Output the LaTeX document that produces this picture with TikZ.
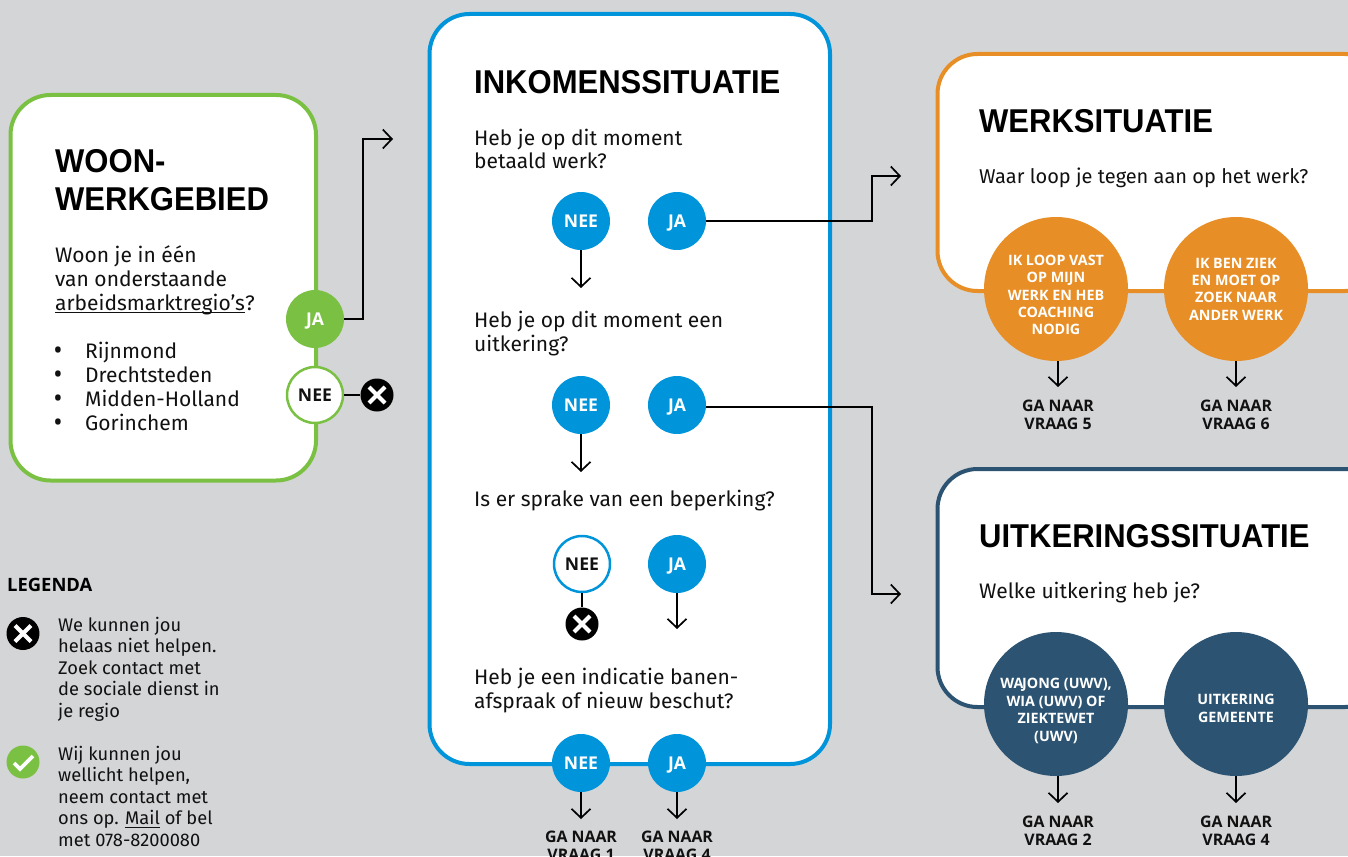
\documentclass[tikz,border=0pt]{standalone}
\usepackage{fontspec}
\setmainfont{Fira Sans}
\newfontfamily\headfont{Liberation Sans Bold}[FakeStretch=0.94]
\newfontfamily\labfont{Open Sans}
\usetikzlibrary{arrows.meta}
\definecolor{bgc}{HTML}{D4D5D7}
\definecolor{gr}{HTML}{7AC143}
\definecolor{bl}{HTML}{0095DA}
\definecolor{orc}{HTML}{E88E26}
\definecolor{nv}{HTML}{2C5472}
\definecolor{ink}{HTML}{111111}
\newcommand{\tline}[1]{\hbox{#1}}
\newcommand{\stack}[2]{\vtop{\baselineskip=#1pt\relax\lineskiplimit=-100pt\relax #2}}
\newcommand{\ulin}[1]{\setbox0\hbox{#1}\rlap{\rule[-3pt]{\wd0}{1pt}}\box0\relax}
\tikzset{
  x=1pt,y=-1pt,
  panel/.style={draw=#1,line width=4pt,fill=white,rounded corners=40pt},
  disc/.style={circle,fill=#1,minimum size=58pt,inner sep=0,text=white,text height=12.5pt,text depth=0pt,font=\labfont\fontsize{17.6}{18}\selectfont\bfseries},
  hollow/.style={circle,draw=#1,line width=2.5pt,fill=white,minimum size=56pt,inner sep=0,text=ink,text height=12.5pt,text depth=0pt,font=\labfont\fontsize{17.6}{18}\selectfont\bfseries},
  bigdisc/.style={circle,fill=#1,minimum size=144pt,inner sep=0},
  bigtxt/.style={inner sep=0,text=white,align=center,font=\labfont\fontsize{14.3}{17.4}\selectfont\bfseries},
  conn/.style={draw=black,line width=1.7pt},
  arr/.style={conn,-{Straight Barb[length=9pt,width=19pt,line width=1.7pt]}},
  head/.style={anchor=base west,inner sep=0,text=black,font=\headfont\fontsize{33}{38}\selectfont},
  body/.style={anchor=base west,inner sep=0,text=ink,font=\fontsize{21}{24}\selectfont},
  legtext/.style={anchor=base west,inner sep=0,text=ink,font=\fontsize{18.3}{21.5}\selectfont},
  goto/.style={inner sep=0,align=center,text=ink,font=\labfont\fontsize{15.9}{18}\selectfont\bfseries},
  xic/.style={circle,fill=black,minimum size=33pt,inner sep=0},
  okic/.style={circle,fill=gr,minimum size=33pt,inner sep=0},
  xmark/.style={draw=white,line width=4.2pt},
}
\newcommand{\crossat}[1]{\draw[xmark] ([xshift=-8pt,yshift=-8pt]#1.center) -- ([xshift=8pt,yshift=8pt]#1.center);
  \draw[xmark] ([xshift=-8pt,yshift=8pt]#1.center) -- ([xshift=8pt,yshift=-8pt]#1.center);}
\begin{document}
\begin{tikzpicture}
\useasboundingbox (0,0) rectangle (1348,856);
\fill[bgc] (0,0) rectangle (1348,856);
\begin{scope}
\clip (0,0) rectangle (1348,856);
% panels
\draw[panel=gr] (10.5,95) rectangle (316,480.5);
\draw[panel=bl] (429.5,14) rectangle (830,764);
\draw[panel=orc] (937.5,54) rectangle (1385,291);
\draw[panel=nv] (937.5,469) rectangle (1385,707);
% free ends
\coordinate (gbend) at (363,139);
\coordinate (gend) at (393,139);
\coordinate (b1bend) at (872,176);
\coordinate (b1end) at (901,176);
\coordinate (b2bend) at (872,594);
\coordinate (b2end) at (901,594);
\coordinate (n1end) at (581,288);
\coordinate (n2end) at (581,472);
\coordinate (j3end) at (677,629);
\coordinate (n4end) at (581,819);
\coordinate (j4end) at (677,819);
\coordinate (o1end) at (1058,387);
\coordinate (o2end) at (1236,387);
\coordinate (v1end) at (1058,803);
\coordinate (v2end) at (1236,803);
% circles
\node[disc=gr] (gja) at (315,319) {JA};
\node[hollow=gr] (gnee) at (315,395) {NEE};
\node[xic] (gx) at (377,395) {};
\node[disc=bl] (n1) at (581,221) {NEE};
\node[disc=bl] (j1) at (677,221) {JA};
\node[disc=bl] (n2) at (581,405) {NEE};
\node[disc=bl] (j2) at (677,405) {JA};
\node[hollow=bl] (n3) at (582,564) {NEE};
\node[disc=bl] (j3) at (677,564) {JA};
\node[xic] (n3x) at (582,624) {};
\node[disc=bl] (n4) at (581,763) {NEE};
\node[disc=bl] (j4) at (677,763) {JA};
\node[bigdisc=orc] (o1) at (1056,289) {};
\node[bigdisc=orc] (o2) at (1236,289) {};
\node[bigdisc=nv] (v1) at (1056,704) {};
\node[bigdisc=nv] (v2) at (1236,704) {};
\node[bigtxt] (o1t) at (1056,295) {IK LOOP VAST\\OP MIJN\\WERK EN HEB\\COACHING\\NODIG};
\node[bigtxt] (o2t) at (1236,289) {IK BEN ZIEK\\EN MOET OP\\ZOEK NAAR\\ANDER WERK};
\node[bigtxt] (v1t) at (1056,711) {WA\kern-1.2pt JONG (UWV),\\WIA (UWV) OF\\ZIEKTEWET\\(UWV)};
\node[bigtxt] (v2t) at (1236,708.5) {UITKERING\\GEMEENTE};
\crossat{gx}
\crossat{n3x}
% connectors
\draw[arr] (gja.east) -| (gbend) -- (gend);
\draw[conn] (gnee.east) -- (gx.west);
\draw[arr] (j1.east) -| (b1bend) -- (b1end);
\draw[arr] ([yshift=-2pt]j2.east) -| (b2bend) -- (b2end);
\draw[arr] (n1.south) -- (n1end);
\draw[arr] (n2.south) -- (n2end);
\draw[arr] (j3.south) -- (j3end);
\draw[conn] (n3.south) -- (n3x.north);
\draw[arr] (n4.south) -- (n4end);
\draw[arr] (j4.south) -- (j4end);
\draw[arr] (o1.south -| o1end) -- (o1end);
\draw[arr] (o2.south) -- (o2end);
\draw[arr] (v1.south -| v1end) -- (v1end);
\draw[arr] (v2.south) -- (v2end);
% green panel
\node[head] (ht1) at (55,172) {\stack{38}{\tline{WOON-}\tline{WERKGEBIED}}};
\node[body] (t1) at (55,262) {\stack{24}{\tline{Woon je in één}\tline{van onderstaande}\tline{\ulin{arbeidsmarktregio’s}?}}};
\node[body] (t2) at (85,358) {\stack{24}{\tline{Rijnmond}\tline{Drechtsteden}\tline{Midden-Holland}\tline{Gorinchem}}};
\node[body,font=\labfont\fontsize{26}{24}\selectfont] (t2b) at (53,359.5) {\stack{24}{\tline{•}\tline{•}\tline{•}\tline{•}}};
% blue panel
\node[head] (ht2) at (474,94) {INKOMENSSITUATIE};
\node[body] (q1) at (474,145) {\stack{24}{\tline{Heb je op dit moment}\tline{betaald werk?}}};
\node[body] (q2) at (474,327) {\stack{24}{\tline{Heb je op dit moment een}\tline{uitkering?}}};
\node[body] (q3) at (474,506) {Is er sprake van een beperking?};
\node[body] (q4) at (474,684) {\stack{24}{\tline{Heb je een indicatie banen-}\tline{afspraak of nieuw beschut?}}};
% right panels
\node[head] (ht3) at (979,132) {WERKSITUATIE};
\node[body,font=\fontsize{20}{24}\selectfont] (q5) at (979,183) {Waar loop je tegen aan op het werk?};
\node[head] (ht4) at (979,547) {UITKERINGSSITUATIE};
\node[body] (q6) at (979,598) {Welke uitkering heb je?};
% targets
\node[goto] (g1) at (581,846) {GA NAAR\\VRAAG 1};
\node[goto] (g2) at (677,846) {GA NAAR\\VRAAG 4};
\node[goto] (g3) at (1058,415) {GA NAAR\\VRAAG 5};
\node[goto] (g4) at (1236,415) {GA NAAR\\VRAAG 6};
\node[goto] (g5) at (1058,831) {GA NAAR\\VRAAG 2};
\node[goto] (g6) at (1236,831) {GA NAAR\\VRAAG 4};
% legend
\node[anchor=base west,inner sep=0,text=black,font=\labfont\fontsize{18.4}{20}\selectfont\bfseries] (lg) at (7,591.5) {LEGENDA};
\node[xic] (lx) at (23,633.5) {};
\crossat{lx}
\node[okic] (lok) at (23,762) {};
\draw[xmark,line width=3.6pt] ([xshift=-9pt,yshift=-1pt]lok.center) -- ([xshift=-3pt,yshift=-7pt]lok.center) -- ([xshift=10pt,yshift=6pt]lok.center);
\node[legtext] (l1) at (58,631) {\stack{21.5}{\tline{We kunnen jou}\tline{helaas niet helpen.}\tline{Zoek contact met}\tline{de sociale dienst in}\tline{je regio}}};
\node[legtext] (l2) at (58,760) {\stack{21.5}{\tline{Wij kunnen jou}\tline{wellicht helpen,}\tline{neem contact met}\tline{ons op. \ulin{Mail} of bel}\tline{met 078-8200080}}};
\end{scope}
\end{tikzpicture}
\end{document}
